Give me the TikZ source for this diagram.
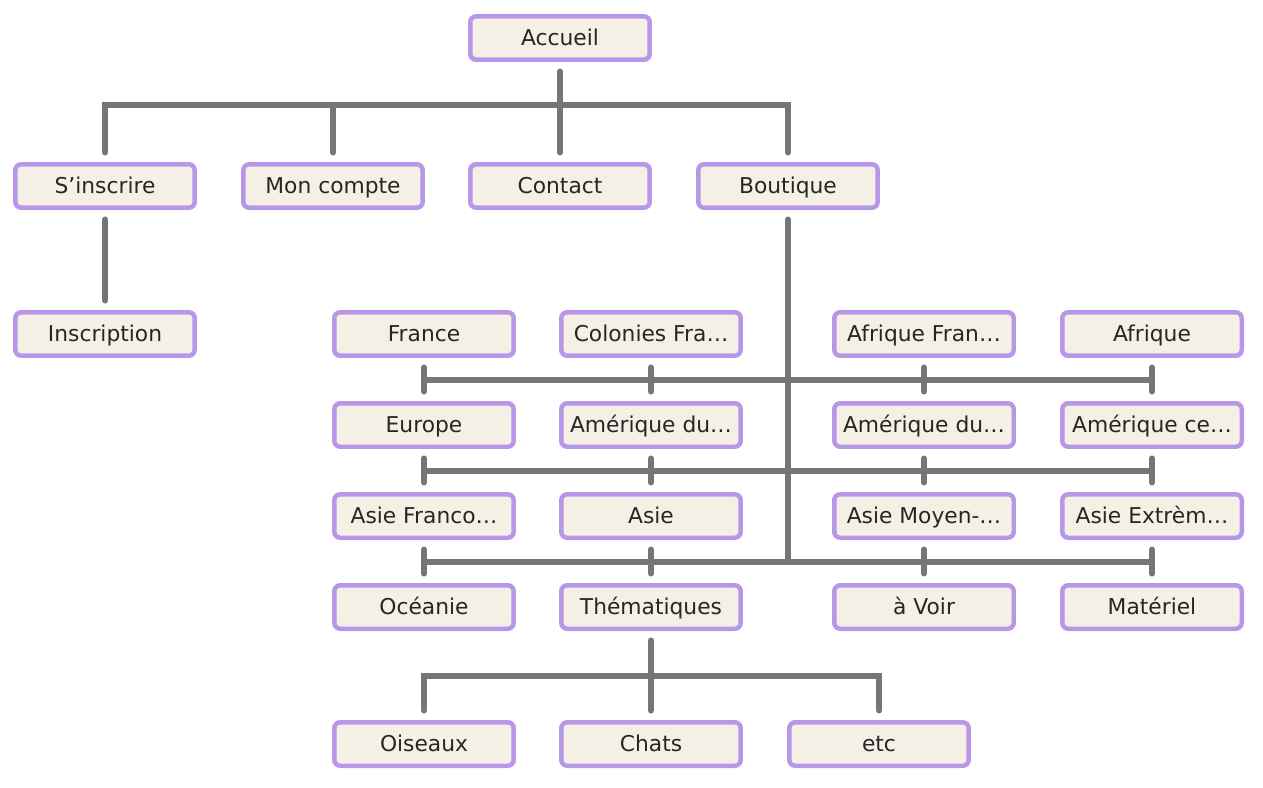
\documentclass[tikz,border=0pt]{standalone}
\usepackage{fontspec}
\setmainfont{DejaVu Sans}
\usetikzlibrary{positioning,calc}
\definecolor{boxfill}{HTML}{F4F0E6}
\definecolor{boxline}{HTML}{B897E8}
\definecolor{linkgray}{HTML}{767676}
\newcommand{\gapsz}{1.9mm}

\begin{document}
\begin{tikzpicture}[
    x=0.02cm, y=-0.02cm,
    font=\fontsize{12.4}{14}\selectfont,
    page/.style={
        draw=boxline,
        fill=boxfill,
        rounded corners=1.2mm,
        line width=0.9mm,
        minimum width=3.59cm,
        minimum height=0.87cm,
        inner sep=0pt,
        text height=3.18mm,
        text depth=0pt,
        text=black!85,
        align=center
    },
    link/.style={
        draw=linkgray,
        line width=1.2mm,
        line cap=round
    }
]
\useasboundingbox (0,0) rectangle (1263,787);

% top
\node[page] (accueil) at (560,38) {Accueil};

% first row
\node[page] (sinscrire) at (105,186) {S’inscrire};
\node[page] (compte) at (333,186) {Mon compte};
\node[page] (contact) at (560,186) {Contact};
\node[page] (boutique) at (788,186) {Boutique};

\node[page] (inscription) at (105,334) {Inscription};

% boutique grid
\node[page] (france) at (424,334) {France};
\node[page] (colonies) at (651,334) {Colonies Fra…};
\node[page] (afriquefr) at (924,334) {Afrique Fran…};
\node[page] (afrique) at (1152,334) {Afrique};

\node[page] (europe) at (424,425) {Europe};
\node[page] (amsud) at (651,425) {Amérique du…};
\node[page] (amnord) at (924,425) {Amérique du…};
\node[page] (amcentre) at (1152,425) {Amérique ce…};

\node[page] (asiefr) at (424,516) {Asie Franco…};
\node[page] (asie) at (651,516) {Asie};
\node[page] (asiemo) at (924,516) {Asie Moyen-…};
\node[page] (asieex) at (1152,516) {Asie Extrèm…};

\node[page] (oceanie) at (424,607) {Océanie};
\node[page] (thema) at (651,607) {Thématiques};
\node[page] (avoir) at (924,607) {à Voir};
\node[page] (materiel) at (1152,607) {Matériel};

% themes
\node[page] (oiseaux) at (424,744) {Oiseaux};
\node[page] (chats) at (651,744) {Chats};
\node[page] (etc) at (879,744) {etc};

% accueil links
\coordinate (topbar) at (560,105);
\draw[link, shorten <=\gapsz] (accueil.south) -- (topbar);
\draw[link, shorten <=\gapsz, shorten >=\gapsz] (sinscrire.north) |- (topbar) -| (boutique.north);
\draw[link, shorten >=\gapsz] (compte.north |- topbar) -- (compte.north);
\draw[link, shorten >=\gapsz] (topbar) -- (contact.north);

\draw[link, shorten <=\gapsz, shorten >=\gapsz] (sinscrire) -- (inscription);

% boutique links
\coordinate (bara) at ($(france.south)!0.5!(europe.north)$);
\coordinate (barb) at ($(europe.south)!0.5!(asiefr.north)$);
\coordinate (barc) at ($(asiefr.south)!0.5!(oceanie.north)$);

\draw[link, shorten <=\gapsz] (boutique.south) -- (boutique.south |- barc);
\foreach \b in {bara,barb,barc}
  \draw[link] (\b) -- (afrique.south |- \b);

\foreach \up/\down in {france/europe, colonies/amsud, afriquefr/amnord, afrique/amcentre,
    europe/asiefr, amsud/asie, amnord/asiemo, amcentre/asieex,
    asiefr/oceanie, asie/thema, asiemo/avoir, asieex/materiel}
  \draw[link, shorten <=\gapsz, shorten >=\gapsz] (\up) -- (\down);

% theme links
\coordinate (thbar) at ($(thema.south)!0.5!(chats.north)$);
\draw[link, shorten <=\gapsz, shorten >=\gapsz] (thema) -- (chats);
\draw[link, shorten <=\gapsz, shorten >=\gapsz] (oiseaux.north) |- (thbar) -| (etc.north);

\end{tikzpicture}
\end{document}
